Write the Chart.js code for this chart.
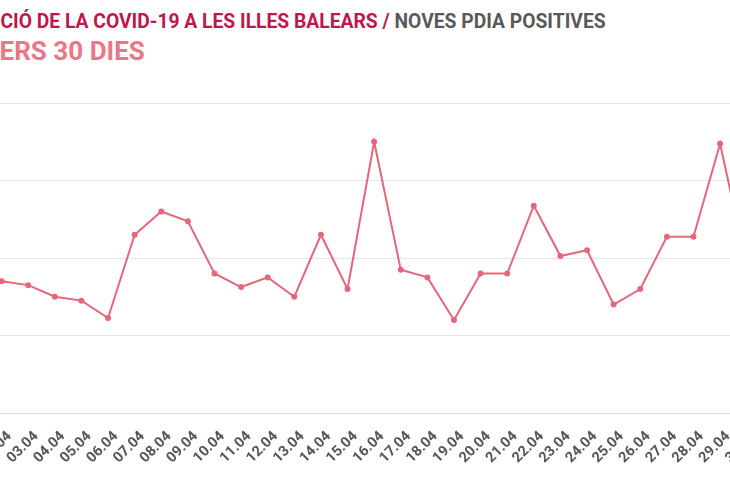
<!DOCTYPE html>
<html>
<head>
<meta charset="utf-8">
<script src="https://cdn.jsdelivr.net/npm/chart.js@4"></script>
<style>
  html, body { margin: 0; padding: 0; background: #fff; overflow: hidden; }
  body { width: 730px; height: 500px; position: relative; font-family: Roboto, sans-serif; }
  .head { position: absolute; white-space: nowrap; font-weight: 700; }
  #title { top: 10px; font-size: 19.3px; color: #bf1650; }
  #title .grey { color: #595959; }
  #subtitle { top: 36px; font-size: 26px; color: #ea7787; }
  #wrap { position: absolute; left: -80px; top: 0; width: 854px; height: 500px; }
</style>
</head>
<body>
<div id="title" class="head"><span class="cut">EVOLU</span>CIÓ DE LA COVID-19 A LES ILLES BALEARS / <span class="grey">NOVES PDIA POSITIVES</span></div>
<div id="subtitle" class="head"><span class="cut">ELS DARR</span>ERS 30 DIES</div>
<div id="wrap"><canvas id="pdiaChart"></canvas></div>
<script>
const days = ['01.04', '02.04', '03.04', '04.04', '05.04', '06.04', '07.04', '08.04', '09.04', '10.04',
              '11.04', '12.04', '13.04', '14.04', '15.04', '16.04', '17.04', '18.04', '19.04', '20.04',
              '21.04', '22.04', '23.04', '24.04', '25.04', '26.04', '27.04', '28.04', '29.04', '30.04'];
const positives = [36, 34, 33, 30, 29, 24.5, 46, 52, 49.5, 36,
                   32.5, 35, 30, 46, 32, 70, 37, 35, 24, 36,
                   36, 53.5, 40.5, 42, 28, 32, 45.5, 45.5, 69.5, 38];
const yMax = 80;
const yStep = 20;

document.addEventListener('DOMContentLoaded', () => {
    // headings are cut at the left edge, like the source picture
    document.querySelectorAll('.head').forEach(el => {
        el.style.left = -el.querySelector('.cut').offsetWidth + 'px';
    });

    const ctx = document.getElementById('pdiaChart').getContext('2d');
    new Chart(ctx, {
        type: 'line',
        data: {
            labels: days,
            datasets: [{
                label: 'Noves PDIA positives',
                data: positives,
                borderColor: '#e4687b',
                backgroundColor: '#e4687b',
                borderWidth: 2,
                pointRadius: 2,
                pointHoverRadius: 3,
                tension: 0,
                fill: false
            }]
        },
        options: {
            responsive: true,
            maintainAspectRatio: false,
            animation: false,
            layout: { padding: { left: 5, right: 15, top: 103, bottom: 0 } },
            plugins: {
                legend: { display: false },
                title: { display: false },
                tooltip: { enabled: false }
            },
            scales: {
                y: {
                    min: 0,
                    max: yMax,
                    afterFit: s => { s.width = 50; },
                    border: { display: false },
                    grid: { color: '#e6e6e6', drawTicks: false },
                    ticks: { stepSize: yStep, color: '#555', padding: 8, font: { family: 'Roboto', size: 13 } }
                },
                x: {
                    afterFit: s => { s.height = 87; },
                    border: { display: true, color: '#dcdcdc', width: 1 },
                    grid: { display: false, drawTicks: false },
                    ticks: {
                        color: '#555',
                        padding: 15,
                        labelOffset: 8,
                        minRotation: 45,
                        maxRotation: 45,
                        autoSkip: false,
                        font: { family: 'Roboto', size: 14.5, weight: 'bold' }
                    }
                }
            }
        }
    });
});
</script>
</body>
</html>
